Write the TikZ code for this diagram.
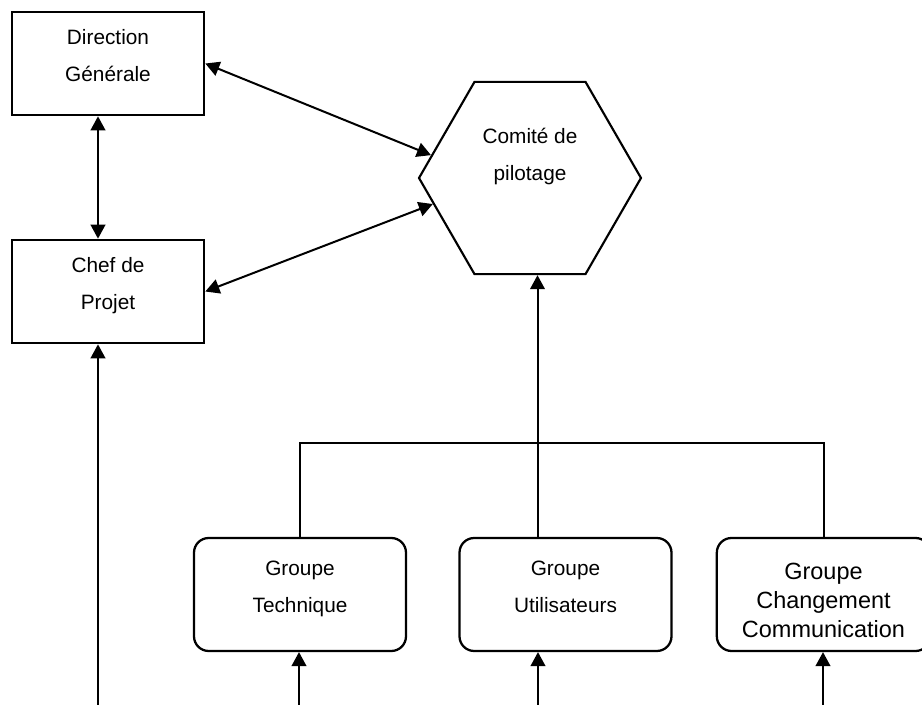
\documentclass[tikz,border=0pt]{standalone}
\usepackage{fontspec}
\setmainfont{Liberation Sans}
\usetikzlibrary{arrows.meta,shapes.geometric}

\begin{document}
\begin{tikzpicture}[x=0.75pt,y=-0.75pt,
    >={Triangle[length=10.5pt,width=11pt]},
    link/.style={line width=1.5pt},
    box/.style={draw, line width=2pt, minimum width=144pt, minimum height=77.25pt,
      inner sep=0pt, align=center, font=\fontsize{15.6pt}{27.75pt}\selectfont,
      text height=27.75pt, text depth=0pt},
    grp/.style={draw, line width=1.7pt, rounded corners=11pt, minimum width=159pt,
      minimum height=84.75pt, inner sep=0pt, align=center,
      font=\fontsize{15.6pt}{27.75pt}\selectfont, text height=27.75pt, text depth=0pt},
    hexa/.style={draw, line width=1.6pt, regular polygon, regular polygon sides=6,
      minimum size=166.5pt, inner sep=0pt, align=center,
      font=\fontsize{15.6pt}{27.75pt}\selectfont, text height=4.5pt, text depth=0pt}]
    \useasboundingbox (0,0) rectangle (922,705);
    \node[box] (dg) at (108,63.5) {Direction\\Générale};
    \node[box] (cp) at (108,291.5) {Chef de\\Projet};
    \node[hexa] (cop) at (530,178) {Comité de\\pilotage};
    \node[grp] (gt) at (300,594.5) {Groupe\\Technique};
    \node[grp] (gu) at (565.5,594.5) {Groupe\\Utilisateurs};
    \node[grp, minimum width=160pt, font=\fontsize{17.6pt}{21.75pt}\selectfont,
      text height=65.25pt] (gc) at (823.5,594.5) {Groupe\\Changement\\Communication};
    \coordinate (fork) at (0,443);
    \coordinate (incp) at (98,705);
    \coordinate (ingt) at (299,705);
    \coordinate (ingu) at (538,705);
    \coordinate (ingc) at (823,705);
    \draw[link,<->] (dg.east) -- (cop.167);
    \draw[link,<->] (cp.east) -- (cop.195);
    \draw[link,<->] ([xshift=-7.5pt]dg.south) -- ([xshift=-7.5pt]cp.north);
    \draw[link,->] (incp) -- (incp |- cp.south);
    \draw[link] (gt.north) -- (gt.north |- fork) -- (gc.north |- fork) -- (gc.north);
    \draw[link,->] ([xshift=-21pt]gu.north) -- ([xshift=-21pt]gu.north |- cop.south);
    \draw[link,->] (ingt) -- (ingt |- gt.south);
    \draw[link,->] (ingu) -- (ingu |- gu.south);
    \draw[link,->] (ingc) -- (ingc |- gc.south);
  \end{tikzpicture}
\end{document}
